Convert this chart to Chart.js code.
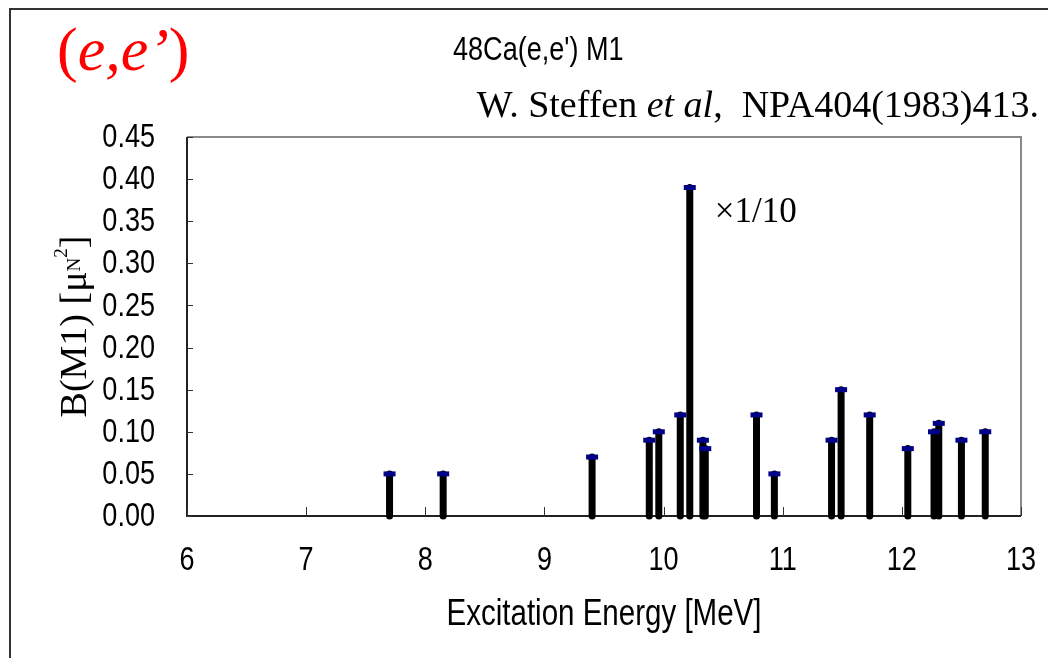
<!DOCTYPE html>
<html>
<head>
<meta charset="utf-8">
<script src="https://cdn.jsdelivr.net/npm/chart.js@4.4.0/dist/chart.umd.min.js"></script>
<style>
  html, body { margin: 0; padding: 0; background: #fff; }
  #wrap { width: 1048px; height: 658px; }
</style>
</head>
<body>
<div id="wrap"><canvas id="m1Chart" width="1048" height="658"></canvas></div>
<script>
// 48Ca(e,e') M1 strengths (W. Steffen et al, NPA404(1983)413), 10.22 MeV state scaled x1/10
const energies = [7.70, 8.15, 9.40, 9.88, 9.96, 10.14, 10.22, 10.33, 10.35, 10.78,
                  10.93, 11.41, 11.49, 11.73, 12.05, 12.27, 12.31, 12.50, 12.70];
const bm1 = [0.05, 0.05, 0.07, 0.09, 0.10, 0.12, 0.39, 0.09, 0.08, 0.12,
             0.05, 0.09, 0.15, 0.12, 0.08, 0.10, 0.11, 0.09, 0.10];
const xTicks = [6, 7, 8, 9, 10, 11, 12, 13];
const yTicks = [0, 0.05, 0.10, 0.15, 0.20, 0.25, 0.30, 0.35, 0.40, 0.45];

const SANS = "'Liberation Sans', Arial, sans-serif";
const SERIF = "'Liberation Serif', 'DejaVu Serif', serif";

// stems: one segment per level, split by empty points
const stemData = energies.flatMap((e, i) => [
  { x: e, y: 0 }, { x: e, y: bm1[i] }, { x: e, y: null }
]);
const capData = energies.map((e, i) => ({ x: e, y: bm1[i] }));

// tall, condensed gothic-looking text
function narrowText(ctx, text, x, y, size, align) {
  ctx.save();
  ctx.font = size + 'px ' + SANS;
  ctx.textAlign = align;
  ctx.translate(x, y);
  ctx.scale(0.82, 1);
  ctx.fillText(text, 0, 0);
  ctx.restore();
}

const framePlugin = {
  id: 'frame',
  beforeDraw(chart) {
    const ctx = chart.ctx;
    ctx.save();
    ctx.fillStyle = '#fff';
    ctx.fillRect(0, 0, chart.width, chart.height);
    ctx.strokeStyle = '#333';
    ctx.lineWidth = 2;
    ctx.strokeRect(10, 9, chart.width + 20, chart.height + 20);
    ctx.restore();
  },
  beforeDatasetsDraw(chart) {
    const { ctx, chartArea: a, scales } = chart;
    ctx.save();
    ctx.lineWidth = 2;
    ctx.strokeStyle = '#8a8a8a';
    ctx.beginPath();
    ctx.moveTo(a.left, a.top); ctx.lineTo(a.right, a.top); ctx.lineTo(a.right, a.bottom);
    ctx.stroke();
    ctx.strokeStyle = '#222';
    ctx.beginPath();
    ctx.moveTo(a.left, a.top); ctx.lineTo(a.left, a.bottom); ctx.lineTo(a.right, a.bottom);
    ctx.stroke();
    // inside tick marks
    ctx.lineWidth = 1;
    ctx.strokeStyle = '#333';
    ctx.beginPath();
    scales.x.ticks.forEach(t => {
      const px = Math.round(scales.x.getPixelForValue(t.value)) + 0.5;
      ctx.moveTo(px, a.bottom); ctx.lineTo(px, a.bottom - 9);
    });
    scales.y.ticks.forEach(t => {
      const py = Math.round(scales.y.getPixelForValue(t.value)) + 0.5;
      ctx.moveTo(a.left, py); ctx.lineTo(a.left + 6, py);
    });
    ctx.stroke();

    // tick labels
    ctx.fillStyle = '#000';
    ctx.textBaseline = 'middle';
    scales.x.ticks.forEach(t => {
      narrowText(ctx, String(t.value), scales.x.getPixelForValue(t.value), 561, 33, 'center');
    });
    scales.y.ticks.forEach(t => {
      narrowText(ctx, t.value.toFixed(2), 155, scales.y.getPixelForValue(t.value) + 1, 33, 'right');
    });
    ctx.restore();
  },
  afterDraw(chart) {
    const { ctx, chartArea: a, scales } = chart;
    ctx.save();
    ctx.textBaseline = 'alphabetic';

    // (e,e') in red
    ctx.fillStyle = '#ff0000';
    let x = 57;
    const parts = [['(', 'normal'], ['e,e\u2019', 'italic'], [')', 'normal']];
    parts.forEach(([s, st]) => {
      ctx.font = st + ' 62px ' + SERIF;
      ctx.fillText(s, x, 70);
      x += ctx.measureText(s).width;
    });

    ctx.fillStyle = '#000';
    narrowText(ctx, "48Ca(e,e') M1", 453, 60, 33, 'left');

    // reference line, right aligned
    const ref = [['W. Steffen ', 'normal'], ['et al', 'italic'], [',  NPA404(1983)413.', 'normal']];
    let w = 0;
    ref.forEach(([s, st]) => { ctx.font = st + ' 38px ' + SERIF; w += ctx.measureText(s).width; });
    x = 1039 - w;
    ref.forEach(([s, st]) => {
      ctx.font = st + ' 38px ' + SERIF;
      ctx.fillText(s, x, 117);
      x += ctx.measureText(s).width;
    });

    // scale note next to the strong 10.22 MeV level
    ctx.font = '35px ' + SERIF;
    ctx.textBaseline = 'middle';
    ctx.fillText('\u00d71/10', scales.x.getPixelForValue(10.43), scales.y.getPixelForValue(0.36));

    // x axis title
    ctx.textBaseline = 'middle';
    narrowText(ctx, 'Excitation Energy [MeV]', (a.left + a.right) / 2, 615, 36, 'center');

    // y axis title with sub/superscripts, rotated
    ctx.textAlign = 'left';
    ctx.textBaseline = 'alphabetic';
    const yt = [['B(M1) [\u03bc', 38, 0], ['N', 19, -6], ['2', 19, -19], [']', 38, 0]];
    let tw = 0;
    yt.forEach(([s, sz]) => { ctx.font = sz + 'px ' + SERIF; tw += ctx.measureText(s).width; });
    ctx.translate(86, (a.top + a.bottom) / 2);
    ctx.rotate(-Math.PI / 2);
    x = -tw / 2;
    yt.forEach(([s, sz, dy]) => {
      ctx.font = sz + 'px ' + SERIF;
      ctx.fillText(s, x, dy);
      x += ctx.measureText(s).width;
    });
    ctx.restore();
  }
};

new Chart(document.getElementById('m1Chart'), {
  type: 'scatter',
  data: {
    datasets: [
      {
        label: 'cap',
        data: capData,
        order: 0,
        showLine: false,
        pointStyle: 'line',
        pointRadius: 6,
        pointBorderWidth: 5,
        borderColor: '#000088',
        backgroundColor: '#000088'
      },
      {
        label: 'B(M1)',
        data: stemData,
        order: 1,
        showLine: true,
        spanGaps: false,
        borderColor: '#000',
        borderWidth: 7,
        borderCapStyle: 'round',
        pointRadius: 0,
        clip: 6
      }
    ]
  },
  options: {
    responsive: false,
    animation: false,
    devicePixelRatio: 1,
    layout: { padding: { left: 0, top: 137, right: 27, bottom: 0 } },
    plugins: { legend: { display: false }, tooltip: { enabled: false } },
    scales: {
      x: {
        type: 'linear',
        min: xTicks[0],
        max: xTicks[xTicks.length - 1],
        afterBuildTicks: s => { s.ticks = xTicks.map(v => ({ value: v })); },
        afterFit: s => { s.height = 142; },
        grid: { display: false },
        border: { display: false },
        ticks: { display: false }
      },
      y: {
        min: yTicks[0],
        max: yTicks[yTicks.length - 1],
        afterBuildTicks: s => { s.ticks = yTicks.map(v => ({ value: v })); },
        afterFit: s => { s.width = 187; },
        grid: { display: false },
        border: { display: false },
        ticks: { display: false }
      }
    }
  },
  plugins: [framePlugin]
});
</script>
</body>
</html>
